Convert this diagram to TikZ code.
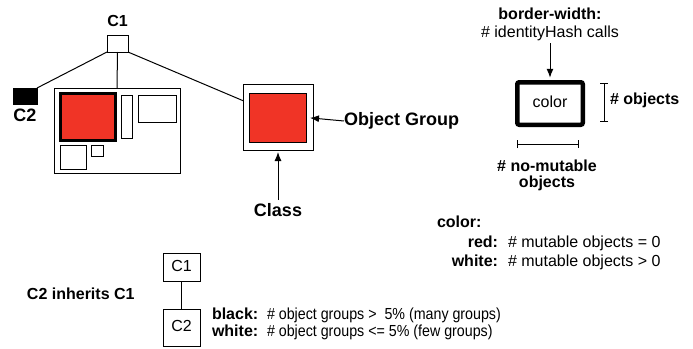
\documentclass[tikz,border=0pt]{standalone}
\usepackage{fontspec}
\setmainfont{Liberation Sans}
\newfontfamily\narrowfont[FakeStretch=0.89]{Liberation Sans}
\usetikzlibrary{arrows.meta,calc}

\definecolor{grpred}{RGB}{240,52,38}

\begin{document}
\begin{tikzpicture}[x=1pt,y=-1pt,
    every node/.style={inner sep=0pt,outer sep=0pt,font=\fontsize{16}{19}\selectfont},
    lbl/.style={text height=11.5pt,text depth=3.5pt},
    bold/.style={lbl,font=\fontsize{16}{19}\selectfont\bfseries},
    big/.style={lbl,font=\fontsize{18}{21}\selectfont\bfseries},
    narrow/.style={lbl,font=\fontsize{16}{19}\narrowfont},
    box/.style={draw,line width=1pt},
    ptr/.style={-{Latex[length=9pt,width=7pt]},line width=1pt},
    dim/.style={{Bar[width=8pt]}-{Bar[width=8pt]},line width=1pt}]
    \useasboundingbox (0,0) rectangle (693,348);

    \node[box,minimum width=21pt,minimum height=17pt] (c1) at (117.5,43.5) {};
    \node[bold] (c1lbl) at (117.5,23) {C1};
    \node[box,fill=black,minimum width=24pt,minimum height=16pt] (c2) at (25,96) {};
    \node[big] (c2lbl) at (25,117) {C2};

    \node[box,minimum width=126pt,minimum height=85pt] (cont) at (117,130.5) {};
    \node[draw,line width=3pt,fill=grpred,minimum width=55pt,minimum height=47pt] (bigred) at (88,117) {};
    \node[box,minimum width=11pt,minimum height=43pt] (tall) at (126.5,116.5) {};
    \node[box,minimum width=38pt,minimum height=27pt] (wide) at (157,108.5) {};
    \node[box,minimum width=26pt,minimum height=24pt] (sq) at (73,157) {};
    \node[box,minimum width=12pt,minimum height=11pt] (tiny) at (97,150.5) {};

    \node[box,minimum width=70pt,minimum height=66pt] (cls) at (278,117) {};
    \node[box,fill=grpred,minimum width=57pt,minimum height=49pt] (grp) at (277.5,117.5) {};

    \draw[line width=1pt] (c1.south west) -- (c2.north east);
    \draw[line width=1pt] (c1.south) -- (cont.north);
    \draw[line width=1pt] (c1.south east) -- (cls.155);

    \node[big,anchor=west] (grplbl) at (344,121) {Object Group};
    \draw[ptr,shorten >=4pt] (grplbl.west) -- (grp.east);
    \node[big] (clslbl) at (278,212) {Class};
    \draw[ptr,shorten <=4.5pt,shorten >=2pt] (clslbl.north) -- (cls.south);

    \node[bold] (bw) at (550,15) {border-width:};
    \node[lbl] (idh) at (550,33) {\# identityHash calls};
    \node[draw,line width=4.5pt,rounded corners=2pt,minimum width=65.5pt,minimum height=42.5pt,lbl] (colbox) at (550,103.5) {color};
    \draw[ptr,shorten <=2.5pt,shorten >=4.5pt] (idh.south) -- (colbox.north);

    \coordinate (vtop) at (604,83);
    \coordinate (vbot) at (604,122);
    \draw[dim] (vtop) -- (vbot);
    \node[bold,anchor=west] (nobj) at (610,100) {\# objects};
    \coordinate (hl) at (517,144);
    \coordinate (hr) at (579,144);
    \draw[dim] (hl) -- (hr);
    \node[align=center,anchor=north,font=\fontsize{16}{16}\selectfont\bfseries] (nomut) at (547,160) {\# no-mutable\\objects};

    \node[bold,anchor=west] (colhd) at (437,223) {color:};
    \node[bold,anchor=east] (redk) at (498,243) {red:};
    \node[lbl,anchor=west] (redv) at (508,243) {\# mutable objects = 0};
    \node[bold,anchor=east] (whk) at (498,262) {white:};
    \node[lbl,anchor=west] (whv) at (508,262) {\# mutable objects > 0};

    \node[bold,anchor=west] (inh) at (27,295) {C2 inherits C1};
    \node[box,lbl,minimum width=37pt,minimum height=28pt] (lc1) at (181.5,267) {C1};
    \node[box,lbl,minimum width=37pt,minimum height=37pt] (lc2) at (181.5,327.5) {C2};
    \draw[line width=1pt] (lc1.south) -- (lc2.north);
    \node[bold,anchor=west] (blk) at (212,315) {black:};
    \node[narrow,anchor=west] (blkv) at (267,315) {\# object groups >\ \ 5\% (many groups)};
    \node[bold,anchor=west] (wht) at (212,332) {white:};
    \node[narrow,anchor=west] (whtv) at (267,332) {\# object groups <= 5\% (few groups)};
\end{tikzpicture}
\end{document}
